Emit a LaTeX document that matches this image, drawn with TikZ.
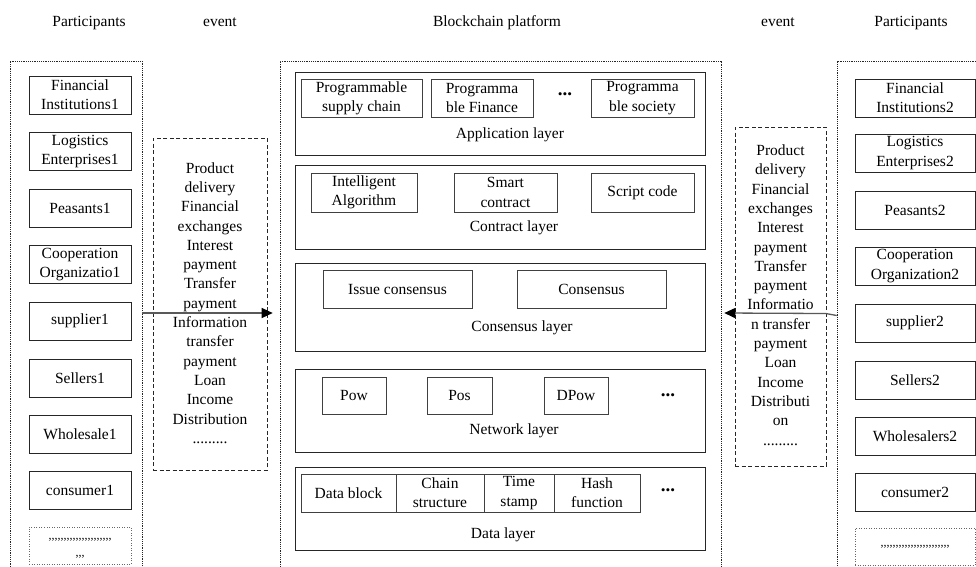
\documentclass[tikz,border=0pt]{standalone}
\usepackage{fontspec}
\setmainfont{Liberation Serif}
\usetikzlibrary{arrows.meta}
\newcommand\cma{,\kern0pt}
\newcommand\cmafive{\cma\cma\cma\cma\cma}
\begin{document}
\begin{tikzpicture}[x=1pt,y=-1pt,
  every node/.style={font=\fontsize{15.5}{19.3}\selectfont, align=center, inner sep=0pt, text=black},
  box/.style={draw=black!85, line width=0.8pt},
  pbox/.style={box, minimum height=38pt},
  lbox/.style={pbox, minimum width=102pt},
  rbox/.style={pbox, minimum width=120pt},
  layer/.style={box, minimum width=410pt},
  ibox/.style={draw=black!75, line width=0.8pt, minimum height=38pt},
  cont/.style={draw=black!85, line width=0.6pt, dash pattern=on 1.2pt off 1pt},
  evbox/.style={draw=black!85, line width=0.8pt, dash pattern=on 4pt off 2.5pt},
  dotbox/.style={draw=black!60, line width=0.6pt, dash pattern=on 1pt off 1.5pt},
  flow/.style={draw=black!65, line width=1.3pt, -{Triangle[length=11pt,width=10pt,fill=black,color=black]}},
  hdots/.style={font=\fontsize{19}{20}\selectfont\bfseries}
]
\useasboundingbox[fill=white] (0,0) rectangle (976,566);

% headers
\node[anchor=base] (hPL) at (89,26) {Participants};
\node[anchor=base] (hEL) at (220,26) {event};
\node[anchor=base] (hBC) at (497,26) {Blockchain platform};
\node[anchor=base] (hER) at (778,26) {event};
\node[anchor=base] (hPR) at (911,26) {Participants};

% containers
\node[cont, minimum width=132pt, minimum height=514pt] (leftC) at (76,318) {};
\node[cont, minimum width=441pt, minimum height=514pt] (centerC) at (500.5,318) {};
\node[cont, minimum width=160pt, minimum height=514pt] (rightC) at (917,318.5) {};

% left participants
\node[lbox] (fi1) at (80,95) {Financial\\Institutions1};
\node[lbox] (le1) at (80,151.5) {Logistics\\Enterprises1};
\node[lbox] (pe1) at (80,208) {Peasants1};
\node[lbox] (co1) at (80,264.5) {Cooperation\\Organizatio1};
\node[lbox] (su1) at (80,321) {supplier1};
\node[lbox] (se1) at (80,378) {Sellers1};
\node[lbox] (wh1) at (80,434.5) {Wholesale1};
\node[lbox] (cn1) at (80,490.5) {consumer1};
\node[dotbox, minimum width=102pt, minimum height=37pt] (dt1) at (80,545.5) {};
\node[font=\fontsize{12}{17}\selectfont] (dt1t) at (80,548) {\cmafive\cmafive\cmafive\cmafive\cma\\\cma\cma\cma};

% right participants
\node[rbox] (fi2) at (915,98) {Financial\\Institutions2};
\node[rbox] (le2) at (915,153) {Logistics\\Enterprises2};
\node[rbox] (pe2) at (915,210) {Peasants2};
\node[rbox] (co2) at (915,266) {Cooperation\\Organization2};
\node[rbox] (su2) at (915,323) {supplier2};
\node[rbox] (se2) at (915,380) {Sellers2};
\node[rbox] (wh2) at (915,436) {Wholesalers2};
\node[rbox] (cn2) at (915,492.5) {consumer2};
\node[dotbox, minimum width=120pt, minimum height=37pt] (dt2) at (915,546.5) {};
\node[font=\fontsize{12}{17}\selectfont] (dt2t) at (915,547) {\cmafive\cmafive\cmafive\cmafive\cma\cma\cma};

% event boxes
\node[evbox, minimum width=114pt, minimum height=332pt] (evL) at (210,304) {};
\node (evLt) at (210,303) {Product\\delivery\\Financial\\exchanges\\Interest\\payment\\Transfer\\payment\\Information\\transfer\\payment\\Loan\\Income\\Distribution\\.........};
\node[evbox, minimum width=91pt, minimum height=339pt] (evR) at (780.5,296.5) {};
\node (evRt) at (780.5,295) {Product\\delivery\\Financial\\exchanges\\Interest\\payment\\Transfer\\payment\\Informatio\\n transfer\\payment\\Loan\\Income\\Distributi\\on\\.........};

% Application layer
\node[layer, minimum height=83pt] (app) at (500,113.5) {};
\node[ibox, minimum width=121pt] (ap1) at (361.5,98) {Programmable\\supply chain};
\node[ibox, minimum width=102pt] (ap2) at (482,98) {Programma\\ble Finance};
\node[hdots] (ap3) at (565,94) {...};
\node[ibox, minimum width=103pt] (ap4) at (642.5,98) {Programma\\ble society};
\node (appL) at (510,135) {Application layer};

% Contract layer
\node[layer, minimum height=84pt] (con) at (500,207) {};
\node[ibox, minimum width=106pt, minimum height=39pt] (ct1) at (364,192.5) {Intelligent\\Algorithm};
\node[ibox, minimum width=103pt, minimum height=39pt] (ct2) at (505.5,192.5) {Smart\\contract};
\node[ibox, minimum width=103pt, minimum height=39pt] (ct3) at (642.5,192.5) {Script code};
\node (conL) at (514,228) {Contract layer};

% Consensus layer
\node[layer, minimum height=88pt] (cns) at (500,307) {};
\node[ibox, minimum width=149pt] (cs1) at (397.5,289) {Issue consensus};
\node[ibox, minimum width=149pt] (cs2) at (591.5,289) {Consensus};
\node (cnsL) at (522,328) {Consensus layer};

% Network layer
\node[layer, minimum height=83pt] (net) at (500,410.5) {};
\node[ibox, minimum width=64pt, minimum height=37pt] (nw1) at (354,395.5) {Pow};
\node[ibox, minimum width=65pt, minimum height=37pt] (nw2) at (459.5,395.5) {Pos};
\node[ibox, minimum width=64pt, minimum height=37pt] (nw3) at (576,395.5) {DPow};
\node[hdots] (nw4) at (668,395) {...};
\node (netL) at (514,431) {Network layer};

% Data layer
\node[layer, minimum height=83pt] (dat) at (500,508.5) {};
\node[ibox, minimum width=95pt] (da1) at (348.5,493) {Data block};
\node[ibox, minimum width=88pt] (da2) at (440,493) {Chain\\structure};
\node[ibox, minimum width=70pt] (da3) at (519,493) {Time\\stamp};
\node[ibox, minimum width=86pt] (da4) at (597,493) {Hash\\function};
\node[hdots] (da5) at (668,490) {...};
\node (datL) at (503,535) {Data layer};

% arrows
\draw[flow] ([yshift=5pt]leftC.east) -- ([xshift=-7pt,yshift=5pt]centerC.west);
\draw[flow] ([yshift=3pt]rightC.west) -- ([xshift=-11pt,yshift=5pt]rightC.west) -- ([xshift=3pt,yshift=5pt]centerC.east);
\end{tikzpicture}
\end{document}
